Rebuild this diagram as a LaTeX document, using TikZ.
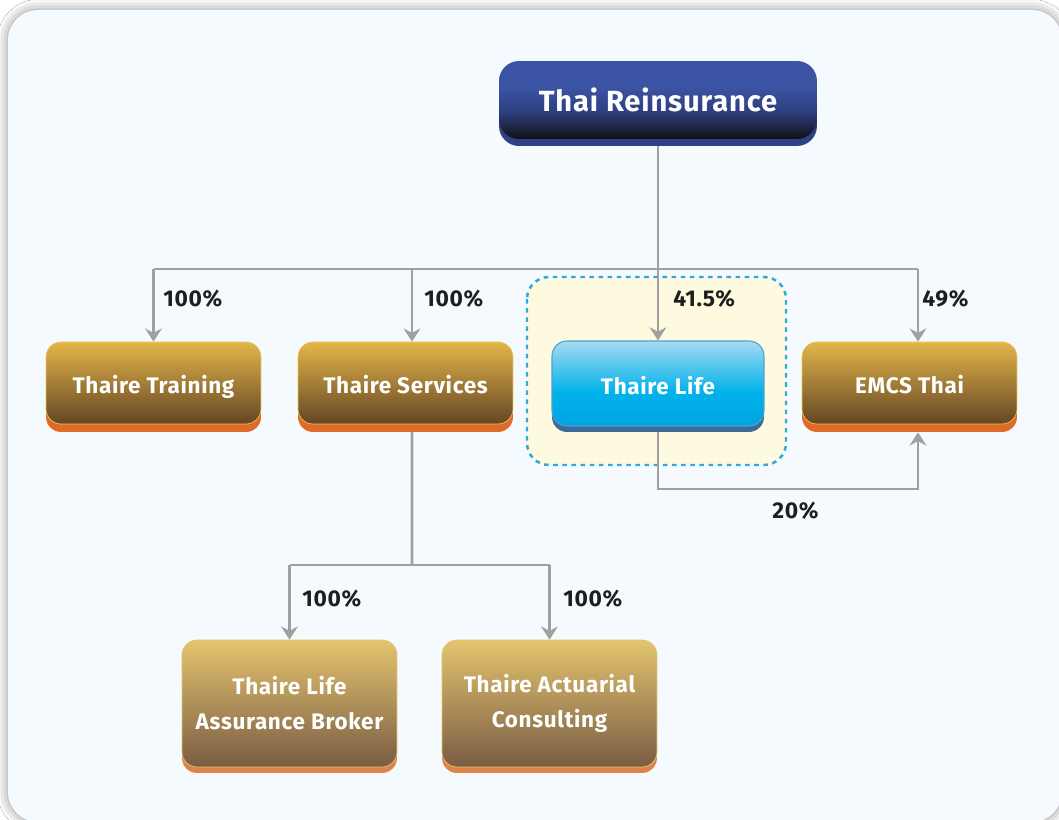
\documentclass[tikz,border=0pt]{standalone}
\usepackage{fontspec}
\setmainfont{Fira Sans}[LetterSpace=3]
\usetikzlibrary{arrows.meta,shadows,shadows.blur,backgrounds}
\usepackage{xcolor}

\definecolor{panelbg}{HTML}{F5FAFE}
\definecolor{groupbg}{HTML}{FEFADF}
\definecolor{groupline}{HTML}{2EA8E0}
\definecolor{linkgray}{HTML}{A0A0A0}
\definecolor{pctink}{HTML}{1E1E1E}
\definecolor{goldtop}{HTML}{E2B64A}
\definecolor{goldbot}{HTML}{654524}
\definecolor{goldrim}{HTML}{E06A28}
\definecolor{goldedge}{HTML}{EBC555}
\definecolor{paletop}{HTML}{E3C46E}
\definecolor{palebot}{HTML}{7A5C44}
\definecolor{palerim}{HTML}{E0834B}
\definecolor{navytop}{HTML}{3B53A3}
\definecolor{navymid}{HTML}{2E3D7C}
\definecolor{navybot}{HTML}{0F1115}
\definecolor{navyrim}{HTML}{2E4186}
\definecolor{lifetop}{HTML}{A6DAF2}
\definecolor{lifemid}{HTML}{00B2EA}
\definecolor{lifebot}{HTML}{00A4E2}
\definecolor{liferim}{HTML}{3C6B9A}
\definecolor{lifeedge}{HTML}{4BA3CF}

\pgfdeclareverticalshading{lifeshade}{100bp}{color(0bp)=(lifebot); color(25bp)=(lifebot); color(45bp)=(lifemid); color(75bp)=(lifetop); color(100bp)=(lifetop)}
\pgfdeclareverticalshading{navyshade}{100bp}{color(0bp)=(navybot); color(25bp)=(navybot); color(42bp)=(navymid); color(58bp)=(navytop); color(100bp)=(navytop)}

\tikzset{
  box/.style={rounded corners=0.3cm, minimum width=4.3cm, minimum height=1.64cm,
    align=center, text=white, inner sep=0pt,
    font=\fontsize{12.8}{20}\selectfont\bfseries},
  oneline/.style={text height=14pt, text depth=2pt},
  goldbox/.style={box, oneline, top color=goldtop, bottom color=goldbot, draw=goldedge, line width=0.4pt,
    drop shadow={shadow xshift=0cm, shadow yshift=-0.16cm, fill=goldrim, opacity=1}},
  palebox/.style={box, minimum height=2.54cm, top color=paletop, bottom color=palebot,
    draw=paletop, line width=0.4pt,
    drop shadow={shadow xshift=0cm, shadow yshift=-0.12cm, fill=palerim, opacity=1}},
  lifebox/.style={box, oneline, minimum width=4.24cm, minimum height=1.7cm, shading=lifeshade,
    draw=lifeedge, line width=0.6pt,
    drop shadow={shadow xshift=0cm, shadow yshift=-0.12cm, fill=liferim, opacity=1}},
  topbox/.style={box, rounded corners=0.4cm, minimum width=6.36cm, minimum height=1.56cm,
    shading=navyshade, font=\fontsize{16.6}{22}\selectfont\bfseries,
    drop shadow={shadow xshift=0cm, shadow yshift=-0.14cm, fill=navyrim, opacity=1}},
  pct/.style={anchor=west, inner sep=0pt, text=pctink, font=\fontsize{13}{15}\selectfont\bfseries},
  link/.style={draw=linkgray, line width=1.7pt},
  arrow/.style={link, -{Stealth[length=7.5pt,width=9.5pt,inset=2.5pt]}},
}

\begin{document}
\begin{tikzpicture}[x=0.02cm,y=-0.02cm]
 \useasboundingbox (0,0) rectangle (1059,820);

 % companies
 \node[topbox] (thre) at (658,100) {Thai Reinsurance};
 \node[goldbox] (training) at (153.5,383) {Thaire Training};
 \node[goldbox] (services) at (405.5,383) {Thaire Services};
 \node[lifebox] (life) at (658,383.5) {Thaire Life};
 \node[goldbox] (emcs) at (909.5,383) {EMCS Thai};
 \node[palebox] (broker) at (289.5,703.5) {Thaire Life\\Assurance Broker};
 \node[palebox] (actuarial) at (549.5,703.5) {Thaire Actuarial\\Consulting};

 % shares
 \node[pct] (p1) at (163,299) {100\%};
 \node[pct] (p2) at (424,299) {100\%};
 \node[pct] (p3) at (673,299) {41.5\%};
 \node[pct] (p4) at (922,299) {49\%};
 \node[pct] (p5) at (302,599) {100\%};
 \node[pct] (p6) at (563,599) {100\%};
 \node[pct] (p7) at (772,511) {20\%};

 \coordinate (split) at (658,269);
 \coordinate (fork) at (412,565);
 \coordinate (loop) at (658,489);
 \coordinate (servin) at ([xshift=0.13cm]services.north);
 \coordinate (emcsin) at ([xshift=0.17cm]emcs.north);
 \coordinate (emcsout) at ([xshift=0.17cm,yshift=-0.16cm]emcs.south);

 \begin{scope}[on background layer]
  \fill[white] (0,0) rectangle (1059,820);
  \fill[panelbg, rounded corners=0.6cm,
    blur shadow={shadow xshift=0pt, shadow yshift=0pt, shadow blur radius=6pt, shadow opacity=45}]
    (8,10) rectangle (1062,822);
  \draw[groupline, fill=groupbg, line width=1.4pt, dash pattern=on 2.6pt off 2.6pt,
    rounded corners=0.44cm] (527,277) rectangle (786,465);

  \draw[arrow] (thre.south) -- (life.north);
  \draw[link] (split -| training.north) -- (split -| emcsin);
  \draw[arrow] (split -| training.north) -- (training.north);
  \draw[arrow] (split -| servin) -- (servin);
  \draw[arrow] (split -| emcsin) -- (emcsin);

  \draw[link] (servin |- services.south) -- (fork);
  \draw[link] (fork -| broker.north) -- (fork -| actuarial.north);
  \draw[arrow] (fork -| broker.north) -- (broker.north);
  \draw[arrow] (fork -| actuarial.north) -- (actuarial.north);

  \draw[arrow] (life.south) -- (loop) -| (emcsout);
 \end{scope}
\end{tikzpicture}
\end{document}
